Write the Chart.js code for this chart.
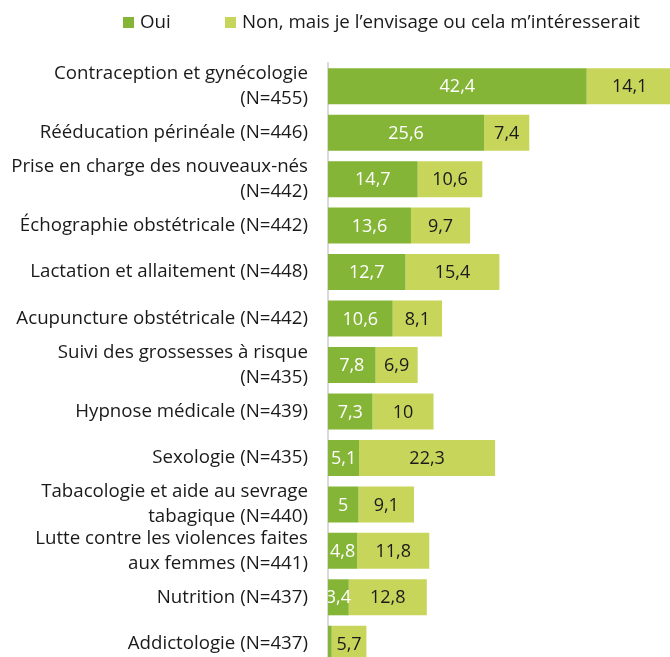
<html lang="fr">
<head>
  <meta charset="UTF-8">
  <title>Pratiques</title>
  <script src="https://cdn.jsdelivr.net/npm/chart.js"></script>
  <style>
    html, body { margin: 0; padding: 0; overflow: hidden; background: #fff; }
    #wrap { position: absolute; left: 0; top: 0; width: 694px; height: 667px; }
  </style>
</head>
<body>
  <div id="wrap"><canvas id="chart"></canvas></div>

  <script>
    // categories (multi-line labels as in the picture)
    const categories = [
      ['Contraception et gynécologie', '(N=455)'],
      'Rééducation périnéale (N=446)',
      ['Prise en charge des nouveaux-nés', '(N=442)'],
      'Échographie obstétricale (N=442)',
      'Lactation et allaitement (N=448)',
      'Acupuncture obstétricale (N=442)',
      ['Suivi des grossesses à risque', '(N=435)'],
      'Hypnose médicale (N=439)',
      'Sexologie (N=435)',
      ['Tabacologie et aide au sevrage', 'tabagique (N=440)'],
      ['Lutte contre les violences faites', 'aux femmes (N=441)'],
      'Nutrition (N=437)',
      'Addictologie (N=437)'
    ];
    const oui = [42.4, 25.6, 14.7, 13.6, 12.7, 10.6, 7.8, 7.3, 5.1, 5, 4.8, 3.4, 0.6];
    const nonMais = [14.1, 7.4, 10.6, 9.7, 15.4, 8.1, 6.9, 10, 22.3, 9.1, 11.8, 12.8, 5.7];
    const seriesNames = ['Oui', 'Non, mais je l\u2019envisage ou cela m\u2019intéresserait'];

    const FONT = "'Open Sans', sans-serif";

    // value labels in the middle of each segment
    const valueLabels = {
      id: 'valueLabels',
      afterDatasetsDraw(chart) {
        const ctx = chart.ctx;
        const area = chart.chartArea;
        ctx.save();
        ctx.beginPath();
        ctx.rect(area.left, area.top, area.right - area.left, area.bottom - area.top);
        ctx.clip();
        ctx.font = '18px ' + FONT;
        ctx.textAlign = 'center';
        ctx.textBaseline = 'middle';
        chart.data.datasets.forEach((ds, i) => {
          const meta = chart.getDatasetMeta(i);
          meta.data.forEach((bar, j) => {
            const v = ds.data[j];
            if (v < 1) return;
            ctx.fillStyle = i === 0 ? '#ffffff' : '#1a1a1a';
            ctx.fillText(String(v).replace('.', ','), (bar.x + bar.base) / 2, bar.y + 1);
          });
        });
        ctx.restore();
      }
    };

    // legend drawn at the top like the original
    const topLegend = {
      id: 'topLegend',
      afterDraw(chart) {
        const ctx = chart.ctx;
        const xs = [123, 225];
        ctx.save();
        ctx.font = '18.7px ' + FONT;
        ctx.textBaseline = 'middle';
        ctx.textAlign = 'left';
        chart.data.datasets.forEach((ds, i) => {
          ctx.fillStyle = ds.backgroundColor;
          ctx.fillRect(xs[i], 17, 11, 11);
          ctx.fillStyle = '#1a1a1a';
          ctx.fillText(ds.label, xs[i] + 17, 23);
        });
        ctx.restore();
      }
    };

    new Chart(document.getElementById('chart'), {
      type: 'bar',
      data: {
        labels: categories,
        datasets: [{
          label: seriesNames[0],
          data: oui,
          backgroundColor: '#85b536',
          borderWidth: 0,
          barPercentage: 0.775,
          categoryPercentage: 1
        }, {
          label: seriesNames[1],
          data: nonMais,
          backgroundColor: '#c8d55b',
          borderWidth: 0,
          barPercentage: 0.775,
          categoryPercentage: 1
        }]
      },
      options: {
        indexAxis: 'y',
        responsive: true,
        maintainAspectRatio: false,
        animation: false,
        layout: { padding: { top: 63, left: 0, right: 0, bottom: 0 } },
        plugins: {
          legend: { display: false },
          tooltip: { enabled: false }
        },
        scales: {
          x: {
            stacked: true,
            display: false,
            min: 0,
            max: 60
          },
          y: {
            stacked: true,
            grid: { display: false, drawTicks: false },
            border: { display: true, color: '#d9d9d9', width: 2 },
            ticks: {
              color: '#1a1a1a',
              padding: 20,
              autoSkip: false,
              font: { family: FONT, size: 18.7, lineHeight: 1.34 }
            },
            afterFit(scale) {
              scale.width = 328;
              scale.paddingTop = 0;
              scale.paddingBottom = 0;
            }
          }
        }
      },
      plugins: [valueLabels, topLegend]
    });
  </script>
</body>
</html>
